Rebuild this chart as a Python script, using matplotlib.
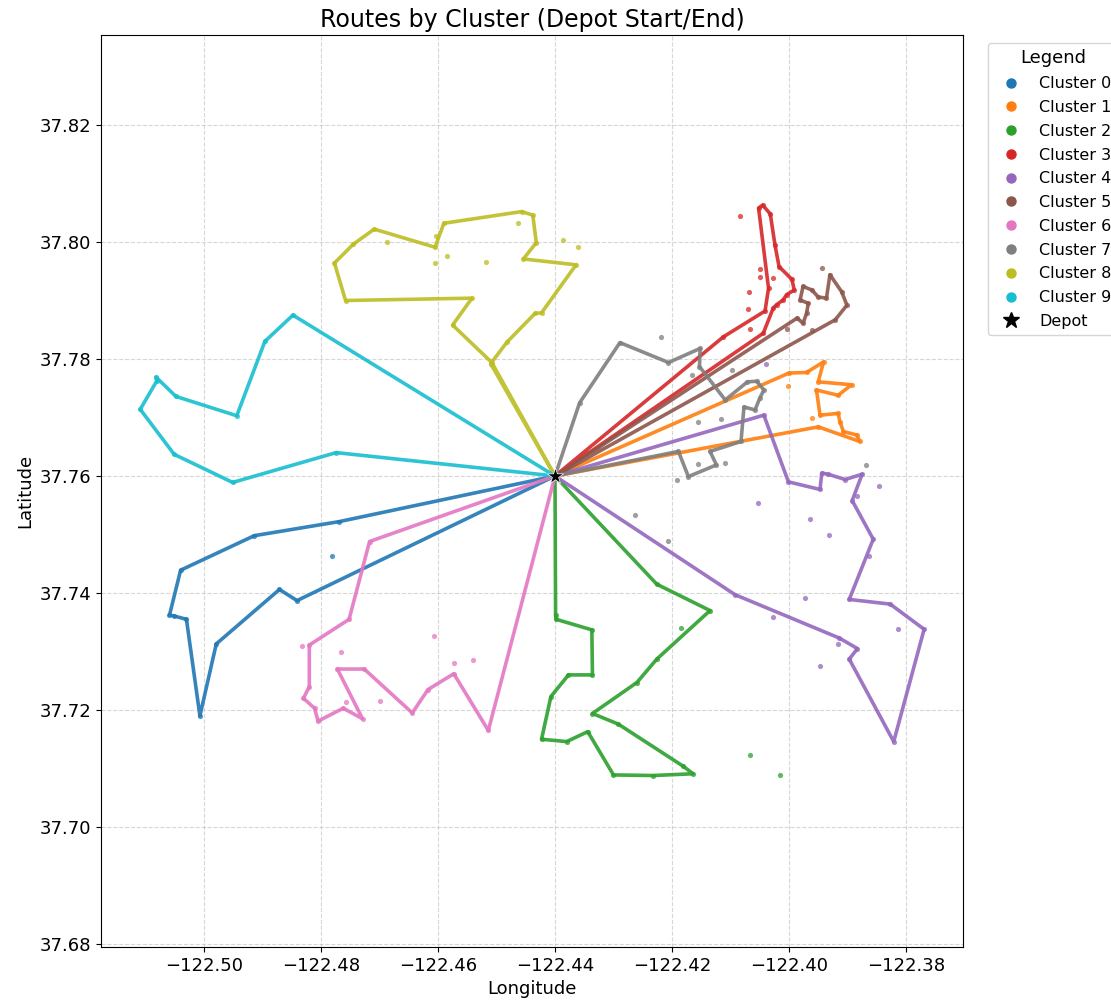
import numpy as np
import matplotlib.pyplot as plt
from matplotlib.lines import Line2D

# depot location (start and end of every route)
DEPOT_LON = -122.44
DEPOT_LAT = 37.76

# visiting order per cluster, (lon, lat), depot excluded
route0 = [(-122.4769, 37.7522), (-122.4914, 37.7498), (-122.5040, 37.7439), (-122.5059, 37.7362),
          (-122.5052, 37.7361), (-122.5030, 37.7355), (-122.5007, 37.7190), (-122.4979, 37.7313),
          (-122.4871, 37.7406), (-122.4841, 37.7387)]
route1 = [(-122.4000, 37.7776), (-122.3970, 37.7777), (-122.3941, 37.7795), (-122.3950, 37.7761),
          (-122.3893, 37.7756), (-122.3916, 37.7738), (-122.3953, 37.7747), (-122.3947, 37.7704),
          (-122.3916, 37.7707), (-122.3913, 37.7693), (-122.3907, 37.7676), (-122.3884, 37.7670),
          (-122.3879, 37.7659), (-122.3950, 37.7684)]
route2 = [(-122.4399, 37.7362), (-122.4398, 37.7355), (-122.4337, 37.7337), (-122.4336, 37.7260),
          (-122.4377, 37.7260), (-122.4407, 37.7223), (-122.4423, 37.7150), (-122.4380, 37.7146),
          (-122.4344, 37.7163), (-122.4300, 37.7089), (-122.4232, 37.7088), (-122.4164, 37.7091),
          (-122.4181, 37.7104), (-122.4292, 37.7176), (-122.4336, 37.7194), (-122.4260, 37.7247),
          (-122.4226, 37.7287), (-122.4135, 37.7370), (-122.4226, 37.7415)]
route3 = [(-122.4112, 37.7838), (-122.4041, 37.7882), (-122.4035, 37.7921), (-122.4052, 37.8058),
          (-122.4045, 37.8063), (-122.4032, 37.8048), (-122.4024, 37.7995), (-122.4017, 37.7958),
          (-122.3995, 37.7936), (-122.3991, 37.7918), (-122.4004, 37.7910), (-122.4010, 37.7901),
          (-122.4021, 37.7893), (-122.4027, 37.7887), (-122.4044, 37.7844)]
route4 = [(-122.4043, 37.7704), (-122.4001, 37.7590), (-122.3947, 37.7577), (-122.3944, 37.7605),
          (-122.3933, 37.7603), (-122.3904, 37.7594), (-122.3875, 37.7603), (-122.3892, 37.7558),
          (-122.3856, 37.7492), (-122.3897, 37.7389), (-122.3827, 37.7381), (-122.3769, 37.7338),
          (-122.3821, 37.7146), (-122.3897, 37.7287), (-122.3883, 37.7305), (-122.3914, 37.7323),
          (-122.4092, 37.7397)]
route5 = [(-122.3986, 37.7870), (-122.3976, 37.7861), (-122.3970, 37.7878), (-122.3967, 37.7895),
          (-122.3981, 37.7901), (-122.3976, 37.7924), (-122.3961, 37.7918), (-122.3950, 37.7906),
          (-122.3936, 37.7904), (-122.3930, 37.7944), (-122.3910, 37.7915), (-122.3901, 37.7892),
          (-122.3921, 37.7867)]
route6 = [(-122.4717, 37.7488), (-122.4752, 37.7355), (-122.4820, 37.7311), (-122.4820, 37.7240),
          (-122.4830, 37.7220), (-122.4811, 37.7203), (-122.4805, 37.7181), (-122.4762, 37.7203),
          (-122.4729, 37.7185), (-122.4772, 37.7270), (-122.4726, 37.7270), (-122.4644, 37.7195),
          (-122.4617, 37.7235), (-122.4573, 37.7262), (-122.4514, 37.7165)]
route7 = [(-122.4358, 37.7725), (-122.4289, 37.7828), (-122.4206, 37.7794), (-122.4152, 37.7818),
          (-122.4153, 37.7787), (-122.4109, 37.7730), (-122.4071, 37.7761), (-122.4055, 37.7762),
          (-122.4043, 37.7747), (-122.4050, 37.7733), (-122.4058, 37.7713), (-122.4077, 37.7718),
          (-122.4082, 37.7659), (-122.4135, 37.7642), (-122.4124, 37.7619), (-122.4172, 37.7599),
          (-122.4189, 37.7642)]
route8 = [(-122.4508, 37.7794), (-122.4575, 37.7858), (-122.4542, 37.7904), (-122.4758, 37.7900),
          (-122.4777, 37.7964), (-122.4745, 37.7996), (-122.4709, 37.8022), (-122.4605, 37.7991),
          (-122.4590, 37.8032), (-122.4457, 37.8052), (-122.4438, 37.8046), (-122.4432, 37.7999),
          (-122.4454, 37.7971), (-122.4364, 37.7961), (-122.4423, 37.7879), (-122.4434, 37.7878),
          (-122.4482, 37.7829), (-122.4510, 37.7792)]
route9 = [(-122.4774, 37.7640), (-122.4951, 37.7589), (-122.5051, 37.7637), (-122.5109, 37.7714),
          (-122.5081, 37.7762), (-122.5082, 37.7769), (-122.5048, 37.7736), (-122.4944, 37.7703),
          (-122.4896, 37.7830), (-122.4848, 37.7875)]

# customers of each cluster that are not on its route
extra0 = [(-122.4781, 37.7463)]
extra1 = [(-122.3961, 37.7699), (-122.4001, 37.7754)]
extra2 = [(-122.4184, 37.7340), (-122.4067, 37.7123), (-122.4015, 37.7089)]
extra3 = [(-122.4083, 37.8044), (-122.4050, 37.7954), (-122.4049, 37.7941), (-122.4027, 37.7938),
          (-122.4068, 37.7915), (-122.4070, 37.7885), (-122.4067, 37.7852)]
extra4 = [(-122.4053, 37.7553), (-122.3964, 37.7527), (-122.3932, 37.7499), (-122.3846, 37.7583),
          (-122.3884, 37.7566), (-122.3864, 37.7463), (-122.3973, 37.7392), (-122.4027, 37.7359),
          (-122.3814, 37.7339), (-122.3947, 37.7276), (-122.3917, 37.7312), (-122.4039, 37.7791)]
extra5 = [(-122.3944, 37.7955), (-122.4004, 37.7852), (-122.3961, 37.7850)]
extra6 = [(-122.4832, 37.7309), (-122.4765, 37.7300), (-122.4757, 37.7214), (-122.4699, 37.7215),
          (-122.4606, 37.7326), (-122.4573, 37.7280), (-122.4540, 37.7285)]
extra7 = [(-122.4218, 37.7837), (-122.4165, 37.7773), (-122.4098, 37.7781), (-122.4156, 37.7692),
          (-122.4116, 37.7697), (-122.4156, 37.7621), (-122.4110, 37.7622), (-122.4192, 37.7594),
          (-122.4264, 37.7533), (-122.4207, 37.7489), (-122.3868, 37.7619)]
extra8 = [(-122.4687, 37.8000), (-122.4604, 37.8010), (-122.4605, 37.7964), (-122.4585, 37.7976),
          (-122.4518, 37.7966), (-122.4464, 37.8033), (-122.4386, 37.8003), (-122.4361, 37.7992)]
extra9 = []

routes = [route0, route1, route2, route3, route4, route5, route6, route7, route8, route9]
extras = [extra0, extra1, extra2, extra3, extra4, extra5, extra6, extra7, extra8, extra9]
labels = ['Cluster %d' % k for k in range(10)]

colors = plt.get_cmap('tab10').colors

fig = plt.figure(figsize=(11.11, 10.01), dpi=100)
ax = fig.add_axes([101/1111, 54/1001, 862/1111, 912/1001])

handles = []
for k, (route, extra) in enumerate(zip(routes, extras)):
    col = colors[k]
    pts = np.array(route + extra)
    ax.scatter(pts[:, 0], pts[:, 1], s=14, color=col, alpha=0.75, zorder=3, linewidths=0)

    path = np.array([(DEPOT_LON, DEPOT_LAT)] + route + [(DEPOT_LON, DEPOT_LAT)])
    ax.plot(path[:, 0], path[:, 1], '-', color=col, linewidth=2.6, alpha=0.9, zorder=2,
            solid_joinstyle='round')
    handles.append(Line2D([], [], linestyle='none', marker='o', markersize=6.5,
                          color=col, label=labels[k]))

ax.scatter([DEPOT_LON], [DEPOT_LAT], marker='*', s=150, color='black',
           edgecolors='white', linewidths=0.5, zorder=5)
handles.append(Line2D([], [], linestyle='none', marker='*', markersize=12,
                      color='black', label='Depot'))

ax.set_xlim(-122.44 - 454/5850, -122.44 + 408/5850)
ax.set_ylim(37.76 - 471/5850, 37.76 + 441/5850)
ax.set_xticks(np.arange(-122.50, -122.37, 0.02))
ax.set_yticks(np.arange(37.68, 37.83, 0.02))
ax.tick_params(labelsize=13)
ax.grid(True, linestyle='--', alpha=0.5)

ax.set_title('Routes by Cluster (Depot Start/End)', fontsize=17)
ax.set_xlabel('Longitude', fontsize=13)
ax.set_ylabel('Latitude', fontsize=13)

ax.legend(handles=handles, title='Legend', loc='upper left', bbox_to_anchor=(1.02, 1),
          fontsize=11.5, title_fontsize=13, labelspacing=0.55)

fig.savefig('out.png', dpi=100)
